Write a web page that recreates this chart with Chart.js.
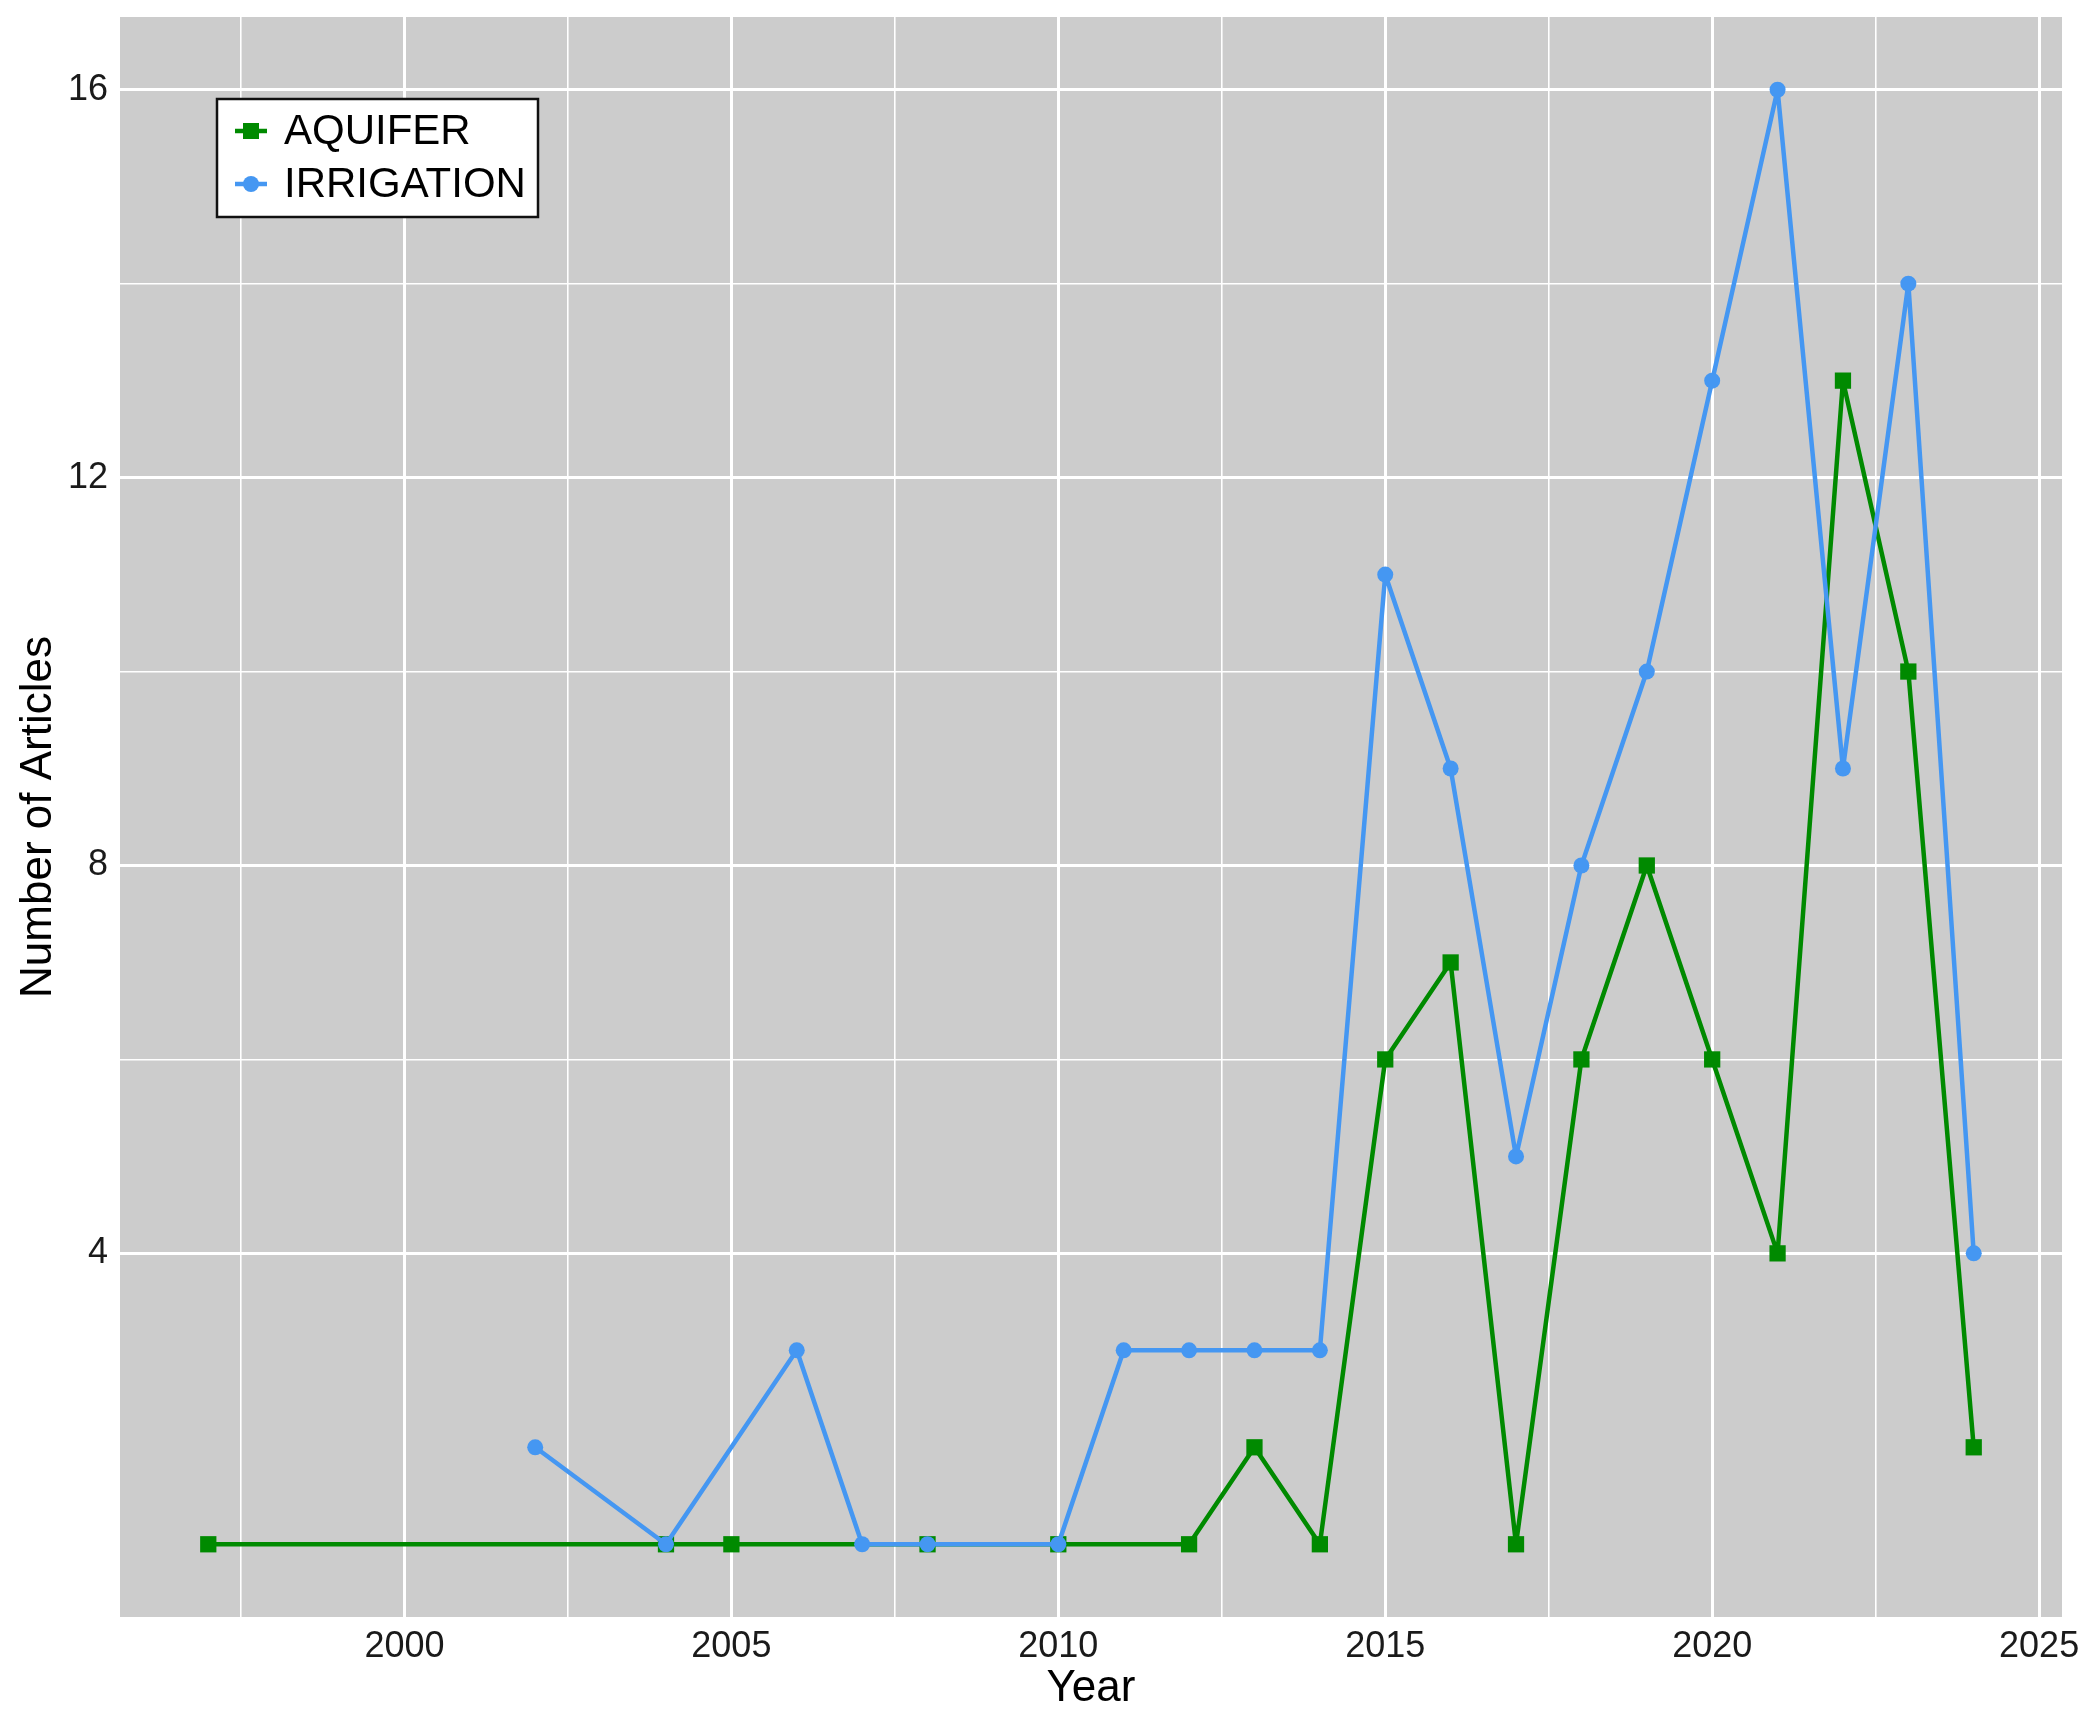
<!DOCTYPE html>
<html>
<head>
<meta charset="utf-8">
<script src="https://cdn.jsdelivr.net/npm/chart.js@4/dist/chart.umd.min.js"></script>
<style>
html,body{margin:0;padding:0;background:#ffffff;}
#wrap{width:2092px;height:1731px;position:relative;}
canvas{display:block;}
</style>
</head>
<body>
<div id="wrap"><canvas id="c" width="2092" height="1731"></canvas></div>
<script>
// ---- data ----
const aquiferYears = [1997, 2004, 2005, 2008, 2010, 2012, 2013, 2014, 2015, 2016, 2017, 2018, 2019, 2020, 2021, 2022, 2023, 2024];
const aquiferCounts = [1, 1, 1, 1, 1, 1, 2, 1, 6, 7, 1, 6, 8, 6, 4, 13, 10, 2];
const irrigationYears = [2002, 2004, 2006, 2007, 2008, 2010, 2011, 2012, 2013, 2014, 2015, 2016, 2017, 2018, 2019, 2020, 2021, 2022, 2023, 2024];
const irrigationCounts = [2, 1, 3, 1, 1, 1, 3, 3, 3, 3, 11, 9, 5, 8, 10, 13, 16, 9, 14, 4];
const seriesLabels = ['AQUIFER', 'IRRIGATION'];
const xMajorTicks = [2000, 2005, 2010, 2015, 2020, 2025];
const xMinorTicks = [1997.5, 2002.5, 2007.5, 2012.5, 2017.5, 2022.5];
const yMajorTicks = [4, 8, 12, 16];
const yMinorTicks = [6, 10, 14];
const xTitle = 'Year';
const yTitle = 'Number of Articles';

const GREEN = '#008a00';
const BLUE = '#4597f2';
const FONT = "'Liberation Sans', Arial, sans-serif";

const bgPlugin = {
  id: 'bg',
  beforeDraw(chart) {
    const {ctx, chartArea: a} = chart;
    ctx.save();
    ctx.fillStyle = '#ffffff';
    ctx.fillRect(0, 0, chart.width, chart.height);
    ctx.fillStyle = '#cccccc';
    ctx.fillRect(a.left, a.top, a.right - a.left, a.bottom - a.top);
    ctx.restore();
  }
};

const legendPlugin = {
  id: 'boxLegend',
  afterDraw(chart) {
    const ctx = chart.ctx;
    const bx = 217, by = 99, bw = 321, bh = 118;
    ctx.save();
    ctx.fillStyle = '#ffffff';
    ctx.fillRect(bx, by, bw, bh);
    ctx.strokeStyle = '#111111';
    ctx.lineWidth = 2.5;
    ctx.strokeRect(bx, by, bw, bh);
    const rows = [131, 184];
    chart.data.datasets.forEach((ds, i) => {
      const y = rows[i];
      ctx.strokeStyle = ds.borderColor;
      ctx.lineWidth = 4.5;
      ctx.beginPath();
      ctx.moveTo(235, y);
      ctx.lineTo(267, y);
      ctx.stroke();
      ctx.fillStyle = ds.borderColor;
      if (ds.pointStyle === 'rect') {
        ctx.fillRect(251 - 8, y - 8, 16, 16);
      } else {
        ctx.beginPath();
        ctx.arc(251, y, 8, 0, Math.PI * 2);
        ctx.fill();
      }
      ctx.fillStyle = '#000000';
      ctx.font = '42px ' + FONT;
      ctx.textBaseline = 'middle';
      ctx.textAlign = 'left';
      ctx.fillText(ds.label, 284, y + 1);
    });
    ctx.restore();
  }
};

const ctx = document.getElementById('c').getContext('2d');
new Chart(ctx, {
  type: 'line',
  data: {
    datasets: [
      {
        label: seriesLabels[0],
        data: aquiferYears.map((x, i) => ({x: x, y: aquiferCounts[i]})),
        borderColor: GREEN,
        backgroundColor: GREEN,
        borderWidth: 4.5,
        borderJoinStyle: 'round',
        borderCapStyle: 'round',
        pointStyle: 'rect',
        pointRadius: 11.5,
        pointBorderWidth: 0,
        pointBackgroundColor: GREEN,
        tension: 0,
        order: 1
      },
      {
        label: seriesLabels[1],
        data: irrigationYears.map((x, i) => ({x: x, y: irrigationCounts[i]})),
        borderColor: BLUE,
        backgroundColor: BLUE,
        borderWidth: 4.5,
        borderJoinStyle: 'round',
        borderCapStyle: 'round',
        pointStyle: 'circle',
        pointRadius: 8,
        pointBorderWidth: 0,
        pointBackgroundColor: BLUE,
        tension: 0,
        order: 0
      }
    ]
  },
  options: {
    responsive: false,
    animation: false,
    devicePixelRatio: 1,
    layout: {padding: {left: 0, right: 30, top: 17, bottom: 0}},
    plugins: {legend: {display: false}, tooltip: {enabled: false}},
    scales: {
      x: {
        type: 'linear',
        min: 1995.65,
        max: 2025.35,
        afterBuildTicks: s => {
          s.ticks = [...xMinorTicks, ...xMajorTicks].sort((a, b) => a - b).map(v => ({value: v}));
        },
        afterFit: s => { s.height = 114; s.paddingLeft = 0; s.paddingRight = 0; },
        border: {display: false},
        grid: {
          color: '#ffffff',
          drawTicks: false,
          lineWidth: c => (c.tick && xMajorTicks.includes(c.tick.value)) ? 3 : 1.6
        },
        ticks: {
          autoSkip: false,
          maxRotation: 0,
          padding: 8,
          color: '#1a1a1a',
          font: {family: FONT, size: 36},
          callback: v => xMajorTicks.includes(v) ? String(v) : ''
        },
        title: {
          display: true,
          text: xTitle,
          color: '#000000',
          font: {family: FONT, size: 44},
          padding: {top: 0, bottom: 16}
        }
      },
      y: {
        type: 'linear',
        min: 0.25,
        max: 16.75,
        afterBuildTicks: s => {
          s.ticks = [...yMinorTicks, ...yMajorTicks].sort((a, b) => a - b).map(v => ({value: v}));
        },
        afterFit: s => { s.width = 120; s.paddingTop = 0; s.paddingBottom = 0; },
        border: {display: false},
        grid: {
          color: '#ffffff',
          drawTicks: false,
          lineWidth: c => (c.tick && yMajorTicks.includes(c.tick.value)) ? 3 : 1.6
        },
        ticks: {
          autoSkip: false,
          padding: 12,
          color: '#1a1a1a',
          font: {family: FONT, size: 36},
          callback: v => yMajorTicks.includes(v) ? String(v) : ''
        },
        title: {
          display: true,
          text: yTitle,
          color: '#000000',
          font: {family: FONT, size: 44},
          padding: {top: 12, bottom: 0}
        }
      }
    }
  },
  plugins: [bgPlugin, legendPlugin]
});
</script>
</body>
</html>
